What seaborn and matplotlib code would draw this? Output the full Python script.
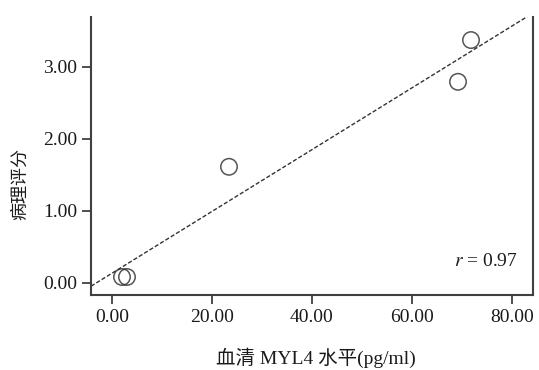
import matplotlib
matplotlib.use("Agg")
import matplotlib.pyplot as plt
import seaborn as sns
import numpy as np
import pandas as pd

# data
myl4 = [2.0, 3.0, 23.4, 69.2, 71.8]
score = [0.08, 0.08, 1.61, 2.79, 3.37]
x_ticks = [0, 20, 40, 60, 80]
y_ticks = [0, 1, 2, 3]
x_label = "血清 MYL4 水平(pg/ml)"
y_label = "病理评分"
r_text = "0.97"

sns.set_theme(style="white")
plt.rcParams['font.family'] = ['Liberation Serif', 'Noto Sans CJK SC', 'DejaVu Sans']
plt.rcParams['mathtext.fontset'] = 'stix'

df = pd.DataFrame({"x": myl4, "y": score})

fig = plt.figure(figsize=(5.39, 3.70), dpi=100)
ax = fig.add_axes([91/539, 1-295/370, 442/539, 278/370])
ax.set_xlim(-4.2, 84.2)
ax.set_ylim(-0.17, 3.69)

sns.regplot(data=df, x="x", y="y", ax=ax, ci=None, truncate=False,
            scatter_kws=dict(s=140, facecolors='none', edgecolors='#2a2a2a', linewidths=1.1),
            line_kws=dict(color='#333333', lw=1.0, ls=(0, (3, 1.5))))
ax.set_xlim(-4.2, 84.2)
ax.set_ylim(-0.17, 3.69)

ax.set_xticks(x_ticks)
ax.set_xticklabels([f"{v:.2f}" for v in x_ticks])
ax.set_yticks(y_ticks)
ax.set_yticklabels([f"{v:.2f}" for v in y_ticks])
ax.xaxis.get_major_ticks()[-1].tick1line.set_visible(False)

ax.tick_params(axis='both', which='major', direction='out', length=6.5, width=1.3,
               color='#404040', labelsize=14, labelcolor='#1a1a1a', pad=3.5,
               bottom=True, left=True)

for side in ['left', 'bottom', 'right']:
    ax.spines[side].set_visible(True)
    ax.spines[side].set_color('#404040')
    ax.spines[side].set_linewidth(1.5)
ax.spines['top'].set_visible(False)

ax.set_xlabel(x_label, fontsize=14, color='#1a1a1a')
ax.set_ylabel(y_label, fontsize=13, color='#1a1a1a')
ax.xaxis.set_label_coords(0.509, -0.19)
ax.yaxis.set_label_coords(-0.14, 0.40)

ax.text(0.966, 0.119, "$r$ = " + r_text, transform=ax.transAxes, ha='right', va='center',
        fontsize=14, color='#1a1a1a')

fig.savefig("out.png", dpi=100)
